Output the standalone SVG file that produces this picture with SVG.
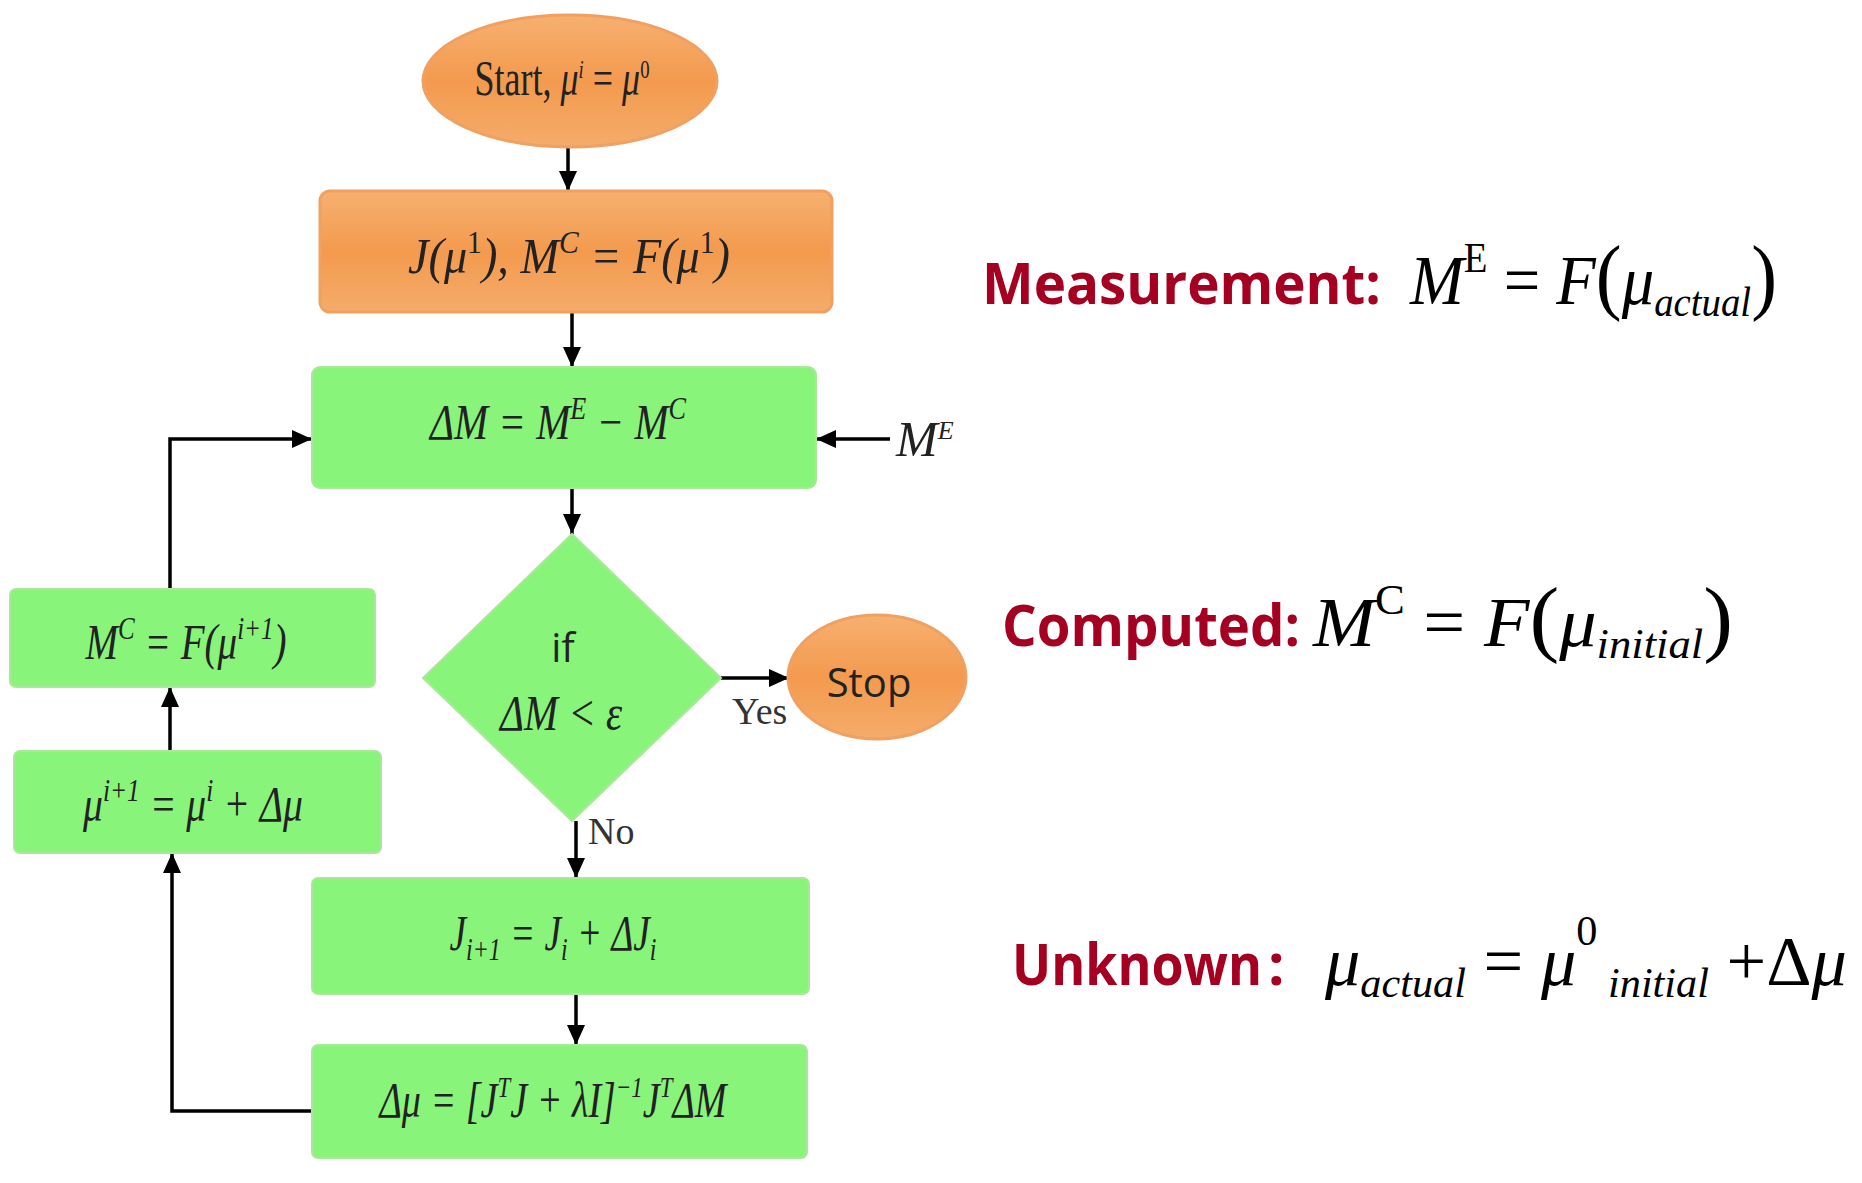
<svg xmlns="http://www.w3.org/2000/svg" width="1862" height="1183" viewBox="0 0 1862 1183">
<style>
.g{fill:#88F57A;stroke:#a8e898;stroke-width:2}
.o{fill:url(#og);stroke:#F0A060;stroke-width:3}
.m{font-family:"Liberation Serif",serif;font-style:italic;font-size:50px;fill:#222}
.c{stroke:#000;stroke-width:3.5;fill:none}
.lab{font-family:"Open Sans","Liberation Sans",sans-serif;font-weight:bold;font-size:58px;fill:#A50021}
.eq{font-family:"Liberation Serif",serif;font-style:italic;font-size:70px;fill:#000}
.s{font-family:"Open Sans","Liberation Sans",sans-serif;font-size:40px;fill:#222}
.yn{font-family:"Liberation Serif",serif;font-size:38px;fill:#333}
</style>
<defs>
<linearGradient id="og" x1="0" y1="0" x2="0" y2="1"><stop offset="0" stop-color="#F7B070"/><stop offset="0.5" stop-color="#F39A4E"/><stop offset="1" stop-color="#F5AC6A"/></linearGradient>
<marker id="a" viewBox="0 0 10 10" refX="10" refY="5" markerWidth="20" markerHeight="18" orient="auto" markerUnits="userSpaceOnUse" preserveAspectRatio="none"><path d="M0,0L10,5L0,10z" fill="#000"/></marker>
</defs>
<g id="connectors" marker-end="url(#a)">
<path class="c" d="M568,147V191"/>
<path class="c" d="M572,312V367"/>
<path class="c" d="M572,488V534"/>
<path class="c" d="M576,821V878"/>
<path class="c" d="M576,994V1045"/>
<path class="c" d="M721,678H789"/>
<path class="c" d="M890,439H816"/>
<path class="c" d="M312,1111H172V853"/>
<path class="c" d="M170,751V687"/>
<path class="c" d="M170,589V439H312"/>
</g>
<g id="start"><ellipse class="o" cx="570" cy="81" rx="147" ry="66"/>
<text class="m" x="562" y="95" text-anchor="middle" font-size="42" style="font-style:normal" textLength="175" lengthAdjust="spacingAndGlyphs">Start, <tspan style="font-style:italic">μ</tspan><tspan style="font-style:italic" font-size="26" dy="-17">i</tspan><tspan dy="17"> = </tspan><tspan style="font-style:italic">μ</tspan><tspan font-size="26" dy="-17">0</tspan></text></g>
<g id="init"><rect class="o" x="320" y="191" width="512" height="121" rx="10"/>
<text class="m" x="569" y="273" text-anchor="middle" textLength="322" lengthAdjust="spacingAndGlyphs">J(μ<tspan font-size="32" dy="-20" style="font-style:normal">1</tspan><tspan dy="20">),   M</tspan><tspan font-size="32" dy="-20">C</tspan><tspan dy="20"> = F(μ</tspan><tspan font-size="32" dy="-20" style="font-style:normal">1</tspan><tspan dy="20">)</tspan></text></g>
<g id="diff"><rect class="g" x="312" y="367" width="504" height="121" rx="8"/>
<text class="m" x="558" y="439" text-anchor="middle" textLength="256" lengthAdjust="spacingAndGlyphs">ΔM = M<tspan font-size="32" dy="-20">E</tspan><tspan dy="20"> − M</tspan><tspan font-size="32" dy="-20">C</tspan></text></g>
<text class="m" x="896" y="456" font-size="40">M<tspan font-size="26" dy="-17">E</tspan></text>
<g id="decision"><path class="g" d="M572,534L721,678L572,821L423,678z"/>
<text class="s" x="563" y="662" text-anchor="middle">if</text>
<text class="m" x="561" y="730" text-anchor="middle" textLength="122" lengthAdjust="spacingAndGlyphs">ΔM &lt; ε</text></g>
<g id="stop"><ellipse class="o" cx="877" cy="677" rx="89" ry="62"/>
<text class="s" x="869" y="697" text-anchor="middle">Stop</text></g>
<text class="yn" x="732" y="724">Yes</text>
<text class="yn" x="588" y="844">No</text>
<g id="mc"><rect class="g" x="10" y="589" width="365" height="98" rx="6"/>
<text class="m" x="186" y="659" text-anchor="middle" textLength="201" lengthAdjust="spacingAndGlyphs">M<tspan font-size="32" dy="-20">C</tspan><tspan dy="20"> = F(μ</tspan><tspan font-size="32" dy="-20">i+1</tspan><tspan dy="20">)</tspan></text></g>
<g id="mu"><rect class="g" x="14" y="751" width="367" height="102" rx="6"/>
<text class="m" x="193" y="821" text-anchor="middle" textLength="220" lengthAdjust="spacingAndGlyphs">μ<tspan font-size="32" dy="-20">i+1</tspan><tspan dy="20"> = μ</tspan><tspan font-size="32" dy="-20">i</tspan><tspan dy="20"> + Δμ</tspan></text></g>
<g id="jup"><rect class="g" x="312" y="878" width="497" height="116" rx="6"/>
<text class="m" x="553" y="950" text-anchor="middle" textLength="207" lengthAdjust="spacingAndGlyphs">J<tspan font-size="32" dy="10">i+1</tspan><tspan dy="-10"> = J</tspan><tspan font-size="32" dy="10">i</tspan><tspan dy="-10"> + ΔJ</tspan><tspan font-size="32" dy="10">i</tspan></text></g>
<g id="dmu"><rect class="g" x="312" y="1045" width="495" height="113" rx="6"/>
<text class="m" x="553" y="1117" text-anchor="middle" textLength="347" lengthAdjust="spacingAndGlyphs">Δμ = [J<tspan font-size="30" dy="-20">T</tspan><tspan dy="20">J + λI]</tspan><tspan font-size="30" dy="-20">−1</tspan><tspan dy="20">J</tspan><tspan font-size="30" dy="-20">T</tspan><tspan dy="20">ΔM</tspan></text></g>
<g id="right">
<text class="lab" x="982" y="304" textLength="399" lengthAdjust="spacingAndGlyphs">Measurement:</text>
<text class="eq" x="1410" y="304" textLength="367" lengthAdjust="spacingAndGlyphs">M<tspan font-size="42" dy="-32" style="font-style:normal">E</tspan><tspan dy="32" style="font-style:normal"> = </tspan>F<tspan style="font-style:normal" font-size="84">(</tspan>μ<tspan font-size="42" dy="12">actual</tspan><tspan dy="-12" style="font-style:normal" font-size="84">)</tspan></text>
<text class="lab" x="1002" y="646" textLength="298" lengthAdjust="spacingAndGlyphs">Computed:</text>
<text class="eq" x="1313" y="646" textLength="420" lengthAdjust="spacingAndGlyphs">M<tspan font-size="42" dy="-32" style="font-style:normal">C</tspan><tspan dy="32" style="font-style:normal"> = </tspan>F<tspan style="font-style:normal" font-size="84">(</tspan>μ<tspan font-size="42" dy="12">initial</tspan><tspan dy="-12" style="font-style:normal" font-size="84">)</tspan></text>
<text class="lab" x="1012" y="985" textLength="250" lengthAdjust="spacingAndGlyphs">Unknown</text>
<text class="lab" x="1268" y="985" font-size="64">:</text>
<text class="eq" x="1325" y="985" textLength="522" lengthAdjust="spacingAndGlyphs">μ<tspan font-size="42" dy="12">actual</tspan><tspan dy="-12" style="font-style:normal"> = </tspan>μ<tspan font-size="42" dy="-40" style="font-style:normal">0</tspan><tspan font-size="42" dy="52"> initial</tspan><tspan dy="-12" style="font-style:normal"> +Δ</tspan>μ</text>
</g>
</svg>
